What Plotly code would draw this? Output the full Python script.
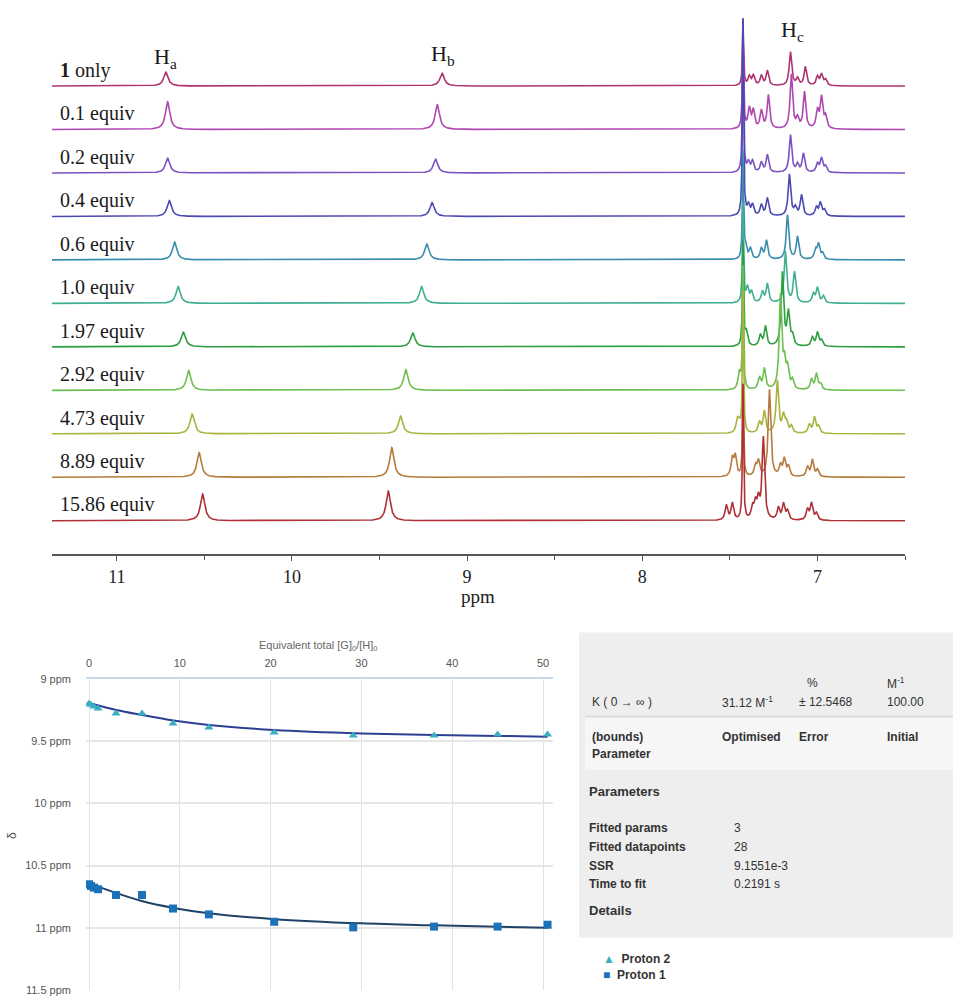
import numpy as np
import plotly.graph_objects as go

# ---------------- NMR titration data (top panel) ----------------
labels = ["<b>1</b> only", "0.1 equiv", "0.2 equiv", "0.4 equiv", "0.6 equiv", "1.0 equiv",
          "1.97 equiv", "2.92 equiv", "4.73 equiv", "8.89 equiv", "15.86 equiv"]
colors = ["#ad3470", "#b046b2", "#7b52c2", "#4a4ab2", "#3a8dae", "#40ae92",
          "#2f9e40", "#6cbf50", "#a8b23c", "#b57a3c", "#b03035"]

ha_ppm = [10.72, 10.71, 10.71, 10.70, 10.67, 10.65, 10.62, 10.59, 10.57, 10.53, 10.51]
ha_h = [14, 28, 15, 16, 18, 17, 15, 20, 20, 25, 27]
hb_ppm = [9.143, 9.17, 9.18, 9.20, 9.23, 9.26, 9.31, 9.35, 9.38, 9.43, 9.45]
hb_h = [13, 25, 14, 14, 16, 17, 14, 21, 18, 30, 30]
solvent_ppm = 7.425
solvent_h = [66, 111, 155, 199, 107, 101, 105, 124, 143, 93, 137]

arom_ppm = [
    [7.389, 7.366, 7.320, 7.286, 7.154, 7.114, 7.069, 7.000, 6.977, 6.954],
    [7.389, 7.366, 7.320, 7.280, 7.149, 7.114, 7.074, 7.000, 6.977, 6.954],
    [7.394, 7.371, 7.320, 7.286, 7.154, 7.114, 7.080, 7.000, 6.977, 6.954],
    [7.394, 7.371, 7.320, 7.286, 7.160, 7.126, 7.091, 7.006, 6.983, 6.960],
    [7.411, 7.383, 7.320, 7.291, 7.171, 7.114, 7.011, 6.994, 6.971],
    [7.400, 7.377, 7.314, 7.286, 7.183, 7.131, 7.023, 7.000, 6.966],
    [7.406, 7.326, 7.297, 7.200, 7.166, 7.143, 7.029, 7.000, 6.977],
    [7.446, 7.331, 7.303, 7.211, 7.189, 7.171, 7.143, 7.034, 7.006, 6.983],
    [7.457, 7.446, 7.331, 7.303, 7.229, 7.194, 7.177, 7.149, 7.046, 7.017, 6.994],
    [7.486, 7.469, 7.354, 7.337, 7.274, 7.211, 7.189, 7.166, 7.057, 7.029, 7.000],
    [7.520, 7.486, 7.371, 7.354, 7.337, 7.309, 7.223, 7.194, 7.171, 7.057, 7.034, 7.006],
]
arom_h = [
    [9, 10, 10, 15, 34, 7, 19, 9, 11, 6],
    [20, 18, 18, 34, 55, 10, 37, 18, 31, 12],
    [10, 11, 10, 18, 38, 8, 19, 9, 14, 6],
    [10, 11, 11, 18, 42, 8, 21, 9, 13, 6],
    [11, 11, 11, 19, 45, 23, 9, 15, 6],
    [15, 11, 11, 19, 52, 31, 9, 15, 7],
    [14, 11, 20, 74, 33, 10, 9, 14, 6],
    [17, 12, 21, 94, 24, 20, 9, 10, 16, 6],
    [13, 7, 11, 22, 53, 17, 10, 7, 9, 16, 7],
    [18, 20, 10, 15, 88, 11, 17, 10, 10, 17, 7],
    [15, 17, 12, 15, 18, 83, 12, 16, 9, 11, 17, 7],
]

# ---------------- Binding fit data (bottom panel) ----------------
eq_x = [0, 0.22, 0.55, 1.0, 2.97, 5.84, 9.25, 13.2, 20.4, 29.1, 38.0, 45.0, 50.5]
proton2 = [9.199, 9.207, 9.223, 9.239, 9.279, 9.279, 9.358, 9.390, 9.430, 9.454, 9.454, 9.446, 9.446]
proton1 = [10.650, 10.664, 10.677, 10.690, 10.736, 10.736, 10.845, 10.892, 10.951, 10.996, 10.990, 10.990, 10.975]
fit_x = [0, 3, 5.8, 9.3, 13.2, 20.4, 30, 38, 45, 50.5]
fit_p2 = [9.194, 9.250, 9.290, 9.335, 9.370, 9.410, 9.438, 9.451, 9.458, 9.464]
fit_p1 = [10.643, 10.720, 10.785, 10.840, 10.882, 10.930, 10.964, 10.980, 10.992, 11.000]
y2_ticks = [9, 9.5, 10, 10.5, 11, 11.5]
y2_ticktext = ["9 ppm", "9.5 ppm", "10 ppm", "10.5 ppm", "11 ppm", "11.5 ppm"]

W, H = 953, 1004
SPACING = 44
W_BROAD, W_AROM, W_SOLV = 0.015, 0.0085, 0.0038


def lor(x, x0, h, w):
    return h / (1.0 + ((x - x0) / w) ** 2)


centers = ha_ppm + hb_ppm + [solvent_ppm] + [p for row in arom_ppm for p in row]
grid = np.unique(np.concatenate([np.arange(6.5, 11.371, 0.001), np.array(centers)]))[::-1]

fig = go.Figure()
n = len(labels)
for i in range(n):
    off = (n - 1 - i) * SPACING
    y = np.full_like(grid, float(off))
    y += lor(grid, ha_ppm[i], ha_h[i], W_BROAD)
    y += lor(grid, hb_ppm[i], hb_h[i], W_BROAD)
    y += lor(grid, solvent_ppm, solvent_h[i], W_SOLV)
    for p, h in zip(arom_ppm[i], arom_h[i]):
        y += lor(grid, p, h, W_AROM)
    fig.add_trace(go.Scatter(x=grid, y=y, mode="lines", line=dict(color=colors[i], width=1.6),
                             xaxis="x", yaxis="y", showlegend=False, hoverinfo="skip"))

# bottom panel traces
fig.add_trace(go.Scatter(x=fit_x, y=fit_p2, mode="lines", line=dict(color="#2d3f91", width=2, shape="spline"),
                         xaxis="x2", yaxis="y2", showlegend=False))
fig.add_trace(go.Scatter(x=fit_x, y=fit_p1, mode="lines", line=dict(color="#1f4266", width=2, shape="spline"),
                         xaxis="x2", yaxis="y2", showlegend=False))
fig.add_trace(go.Scatter(x=eq_x, y=proton2, mode="markers", name="Proton 2",
                         marker=dict(symbol="triangle-up", size=8, color="#3aaec2"),
                         xaxis="x2", yaxis="y2", showlegend=False))
fig.add_trace(go.Scatter(x=eq_x, y=proton1, mode="markers", name="Proton 1",
                         marker=dict(symbol="square", size=8, color="#1c72b8"),
                         xaxis="x2", yaxis="y2", showlegend=False))

SERIF = "Liberation Serif"
SANS = "Liberation Sans"

y_dom_top = [1 - 555 / H, 1 - 10 / H]
fig.update_layout(
    width=W, height=H, margin=dict(l=0, r=0, t=0, b=0),
    paper_bgcolor="white", plot_bgcolor="rgba(0,0,0,0)",
    xaxis=dict(domain=[52 / W, 905 / W], range=[11.37, 6.50], anchor="y",
               showline=True, linecolor="#555", linewidth=1.5, showgrid=False, zeroline=False,
               ticks="outside", ticklen=5, tickcolor="#555", tick0=7, dtick=1,
               minor=dict(dtick=0.5, tick0=7, ticks="outside", ticklen=4, tickcolor="#555"),
               tickfont=dict(family=SERIF, size=18, color="#222")),
    yaxis=dict(domain=y_dom_top, range=[-34, 511], visible=False),
    xaxis2=dict(domain=[86 / W, 553 / W], range=[-0.33, 51.1], anchor="y2", side="top",
                showline=True, linecolor="#c9d9ea", linewidth=1.5, showgrid=True, gridcolor="#dde4ec",
                zeroline=False, tickvals=[0, 10, 20, 30, 40, 50], ticks="",
                tickfont=dict(family=SANS, size=11, color="#555"), ticklabelstandoff=6),
    yaxis2=dict(domain=[1 - 996 / H, 1 - 681 / H], range=[11.5, 9], anchor="x2",
                showgrid=True, gridcolor="#e6e6e6", gridwidth=1.5, zeroline=False, showline=False,
                tickmode="array", tickvals=y2_ticks, ticktext=y2_ticktext, ticks="",
                tickfont=dict(family=SANS, size=11, color="#555"), ticklabelstandoff=14),
)

ann = []
for i, lab in enumerate(labels):
    off = (n - 1 - i) * SPACING
    ann.append(dict(x=58 / W, xref="paper", y=off + 16, yref="y", text=lab, showarrow=False,
                    xanchor="left", yanchor="middle", font=dict(family=SERIF, size=20, color="#1a1a1a")))
for txt_, px, py in [("H<sub>a</sub>", 10.72, 468), ("H<sub>b</sub>", 9.137, 471), ("H<sub>c</sub>", 7.143, 496)]:
    ann.append(dict(x=px, xref="x", y=py, yref="y", text=txt_, showarrow=False,
                    xanchor="center", yanchor="middle", font=dict(family=SERIF, size=22, color="#1a1a1a")))
ann.append(dict(x=478 / W, xref="paper", y=1 - 598 / H, yref="paper", text="ppm", showarrow=False,
                xanchor="center", yanchor="middle", font=dict(family=SERIF, size=19, color="#1a1a1a")))

# bottom-left titles
ann.append(dict(x=318 / W, xref="paper", y=1 - 648 / H, yref="paper",
                text="Equivalent total [G]<sub>0</sub>/[H]<sub>0</sub>", showarrow=False,
                xanchor="center", yanchor="middle", font=dict(family=SANS, size=11, color="#666")))
ann.append(dict(x=12 / W, xref="paper", y=1 - 840 / H, yref="paper", text="δ", showarrow=False,
                textangle=-90, xanchor="center", yanchor="middle", font=dict(family=SANS, size=12, color="#555")))


def txt(x, y, s, bold=False, size=12, color="#333"):
    ann.append(dict(x=x / W, xref="paper", y=1 - y / H, yref="paper", text=("<b>%s</b>" % s) if bold else s,
                    showarrow=False, xanchor="left", yanchor="middle",
                    font=dict(family=SANS, size=size, color=color)))


txt(590, 704, "K ( 0 → ∞ )")
txt(720, 704, "31.12 M<sup>-1</sup>")
txt(797, 704, "± 12.5468")
txt(805, 685, "%")
txt(885, 704, "100.00")
txt(885, 685, "M<sup>-1</sup>")
txt(590, 740, "(bounds)", bold=True)
txt(590, 757, "Parameter", bold=True)
txt(720, 740, "Optimised", bold=True)
txt(797, 740, "Error", bold=True)
txt(885, 740, "Initial", bold=True)
txt(587, 795, "Parameters", bold=True, size=13)
txt(587, 832, "Fitted params", bold=True)
txt(587, 851, "Fitted datapoints", bold=True)
txt(587, 870, "SSR", bold=True)
txt(587, 889, "Time to fit", bold=True)
txt(732, 832, "3")
txt(732, 851, "28")
txt(732, 870, "9.1551e-3")
txt(732, 889, "0.2191 s")
txt(587, 915, "Details", bold=True, size=13)
txt(601, 965, '<span style="color:#3aaec2">▲</span>  <b>Proton 2</b>', size=12)
txt(601, 981, '<span style="color:#1c72b8">■</span>  <b>Proton 1</b>', size=12)

fig.update_layout(annotations=ann)

shapes = [
    dict(type="rect", xref="paper", yref="paper", x0=579 / W, x1=1, y0=1 - 943 / H, y1=1 - 634 / H,
         fillcolor="#eeeeee", line=dict(width=0), layer="below"),
    dict(type="rect", xref="paper", yref="paper", x0=585 / W, x1=1, y0=1 - 773 / H, y1=1 - 719 / H,
         fillcolor="#f6f6f6", line=dict(width=0), layer="below"),
    dict(type="line", xref="paper", yref="paper", x0=585 / W, x1=1, y0=1 - 719 / H, y1=1 - 719 / H,
         line=dict(color="#dcdcdc", width=2), layer="below"),
]
fig.update_layout(shapes=shapes)

fig.write_html("out.html")
